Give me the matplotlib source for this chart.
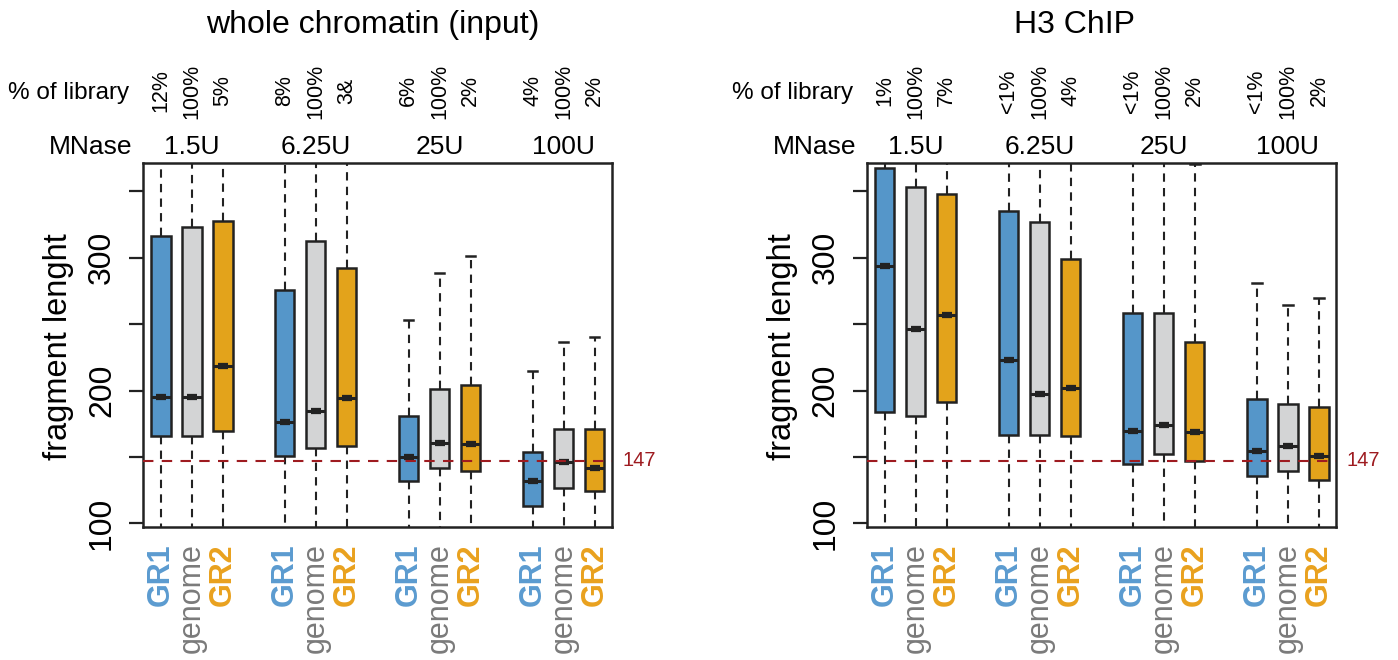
import matplotlib
matplotlib.use('Agg')
import matplotlib.pyplot as plt
import matplotlib.transforms as mtransforms

plt.rcParams['font.family'] = ['Liberation Sans', 'DejaVu Sans']

groups = ['GR1', 'genome', 'GR2'] * 4
mnase = ['1.5U', '6.25U', '25U', '100U']
positions = [1, 2, 3, 5, 6, 7, 9, 10, 11, 13, 14, 15]
nucleosome = 147

# whole chromatin (input)
input_pct = ['12%', '100%', '5%', '8%', '100%', '3&', '6%', '100%', '2%', '4%', '100%', '2%']
input_q1 = [165.9, 165.9, 169.7, 150.9, 156.6, 157.9, 131.6, 141.6, 139.8, 112.8, 126.8, 124.1]
input_med = [195.5, 195.5, 218.5, 176.0, 184.7, 194.7, 149.9, 160.6, 159.6, 131.8, 145.9, 141.9]
input_q3 = [316.3, 323.3, 327.6, 275.4, 312.8, 292.5, 181.0, 200.8, 204.5, 153.6, 170.7, 170.7]
input_hi = [420, 420, 420, 420, 420, 420, 253.1, 288.2, 301.3, 214.5, 236.3, 240.1]
input_lo = [60] * 12

# H3 ChIP
h3_pct = ['1%', '100%', '7%', '<1%', '100%', '4%', '<1%', '100%', '2%', '<1%', '100%', '2%']
h3_q1 = [183.5, 180.5, 191.7, 166.7, 166.7, 165.9, 144.9, 152.1, 146.6, 135.8, 139.6, 132.8]
h3_med = [293.7, 246.6, 256.6, 222.8, 197.7, 201.8, 169.7, 173.7, 168.7, 154.6, 157.9, 150.9]
h3_q3 = [367.2, 353.4, 347.6, 335.3, 326.6, 298.7, 258.6, 258.6, 236.6, 193.7, 189.7, 187.7]
h3_hi = [420, 420, 420, 420, 420, 420, 420, 420, 370.5, 280.7, 264.4, 269.9]
h3_lo = [60] * 12

fills = {'GR1': '#5596C9', 'genome': '#D3D4D5', 'GR2': '#E3A31B'}
label_colors = {'GR1': '#5B9BD0', 'genome': '#7A7A7A', 'GR2': '#E9A11E'}
dark = '#222222'
red = '#9E1B20'

fig = plt.figure(figsize=(13.98, 6.6), dpi=100)
W, H = 1398.0, 660.0


def draw_panel(ax, x0, title, title_x, pct, q1, med, q3, lo, hi):
    stats = []
    for i in range(len(positions)):
        stats.append({'q1': q1[i], 'med': med[i], 'q3': q3[i],
                      'whislo': lo[i], 'whishi': hi[i], 'fliers': []})
    bp = ax.bxp(stats, positions=positions, widths=0.62, capwidths=0.3,
                patch_artist=True, showfliers=False,
                boxprops=dict(edgecolor=dark, linewidth=1.8),
                whiskerprops=dict(color=dark, linewidth=1.5, linestyle=(0, (4, 3))),
                capprops=dict(color=dark, linewidth=1.8),
                medianprops=dict(color=dark, linewidth=2.2))
    for patch, g in zip(bp['boxes'], groups):
        patch.set_facecolor(fills[g])
    ax.hlines(med, [p - 0.16 for p in positions], [p + 0.16 for p in positions],
              color=dark, linewidth=4.5, zorder=5)

    ax.axhline(nucleosome, color=red, linewidth=1.5, linestyle=(0, (5, 4)), zorder=6)
    ax.text(1.022, nucleosome, str(nucleosome), transform=ax.get_yaxis_transform(),
            color=red, fontsize=14.5, ha='left', va='center')

    ax.set_xlim(0.43, 15.55)
    ax.set_ylim(97.5, 371.5)
    ax.set_yticks([100, 150, 200, 250, 300, 350])
    ax.set_yticklabels(['100', '', '200', '', '300', ''])
    ax.tick_params(axis='y', length=10, width=1.6, color=dark, pad=9, labelsize=23)
    for t in ax.get_yticklabels():
        t.set_rotation(90)
        t.set_va('center')
    ax.set_xticks(positions)
    ax.set_xticklabels(groups, rotation=90, va='top', ha='center', fontsize=22)
    ax.tick_params(axis='x', length=0, pad=12)
    for t, g in zip(ax.get_xticklabels(), groups):
        t.set_color(label_colors[g])
        if g != 'genome':
            t.set_fontweight('bold')
    for s in ax.spines.values():
        s.set_linewidth(1.8)
        s.set_color(dark)

    trans = mtransforms.blended_transform_factory(ax.transData, fig.transFigure)
    for p, s in zip(positions, pct):
        ax.text(p, 1 - 91 / H, s, transform=trans, rotation=90, fontsize=15.5,
                ha='center', va='center')
    for k, m in enumerate(mnase):
        ax.text(positions[3 * k + 1], 1 - 147 / H, m, transform=trans, fontsize=19,
                ha='center', va='center')

    fig.text((x0 + 129) / W, 1 - 93 / H, '% of library', fontsize=17.5, ha='right', va='center')
    fig.text((x0 + 132) / W, 1 - 147 / H, 'MNase', fontsize=19, ha='right', va='center')
    fig.text((x0 + 58) / W, 1 - 347 / H, 'fragment lenght', fontsize=23.5, rotation=90,
             ha='center', va='center')
    fig.text(title_x / W, 1 - 25 / H, title, fontsize=23, ha='center', va='center')


ax1 = fig.add_axes([143.3 / W, 1 - 526.7 / H, 468.4 / W, 364.0 / H])
draw_panel(ax1, 0, 'whole chromatin (input)', 373, input_pct,
           input_q1, input_med, input_q3, input_lo, input_hi)

ax2 = fig.add_axes([867.0 / W, 1 - 526.7 / H, 469.0 / W, 364.0 / H])
draw_panel(ax2, 724, 'H3 ChIP', 1075, h3_pct,
           h3_q1, h3_med, h3_q3, h3_lo, h3_hi)

fig.savefig('out.png', dpi=100)
